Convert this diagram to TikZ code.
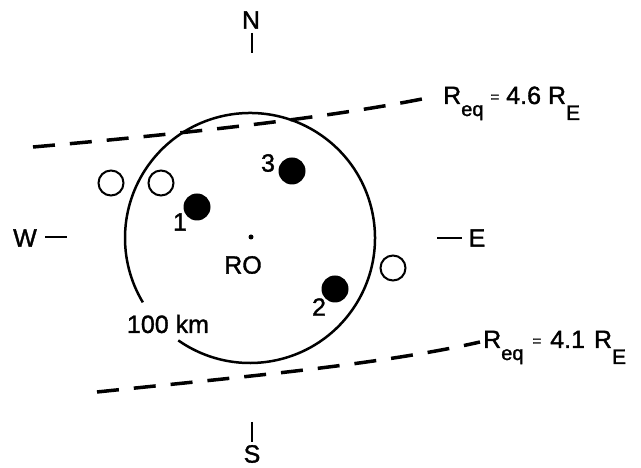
\documentclass[tikz,border=0pt]{standalone}
\usepackage{fontspec}
\setmainfont[FakeBold=1.4]{Liberation Sans}
\newcommand\reqlab[2]{R\raisebox{-12pt}{\fontsize{20}{20}\selectfont eq}\hspace{#2}\raisebox{2pt}{\fontsize{15}{15}\selectfont =}\hspace{#2}#1\hspace{#2}R\raisebox{-16pt}{\fontsize{21}{21}\selectfont E}}
\begin{document}
\begin{tikzpicture}[x=1pt,y=1pt,
  lab/.style={font=\fontsize{25}{25}\selectfont, inner sep=0pt},
  reqtext/.style={font=\fontsize{25}{25}\selectfont, inner sep=0pt, anchor=base west},
  filled/.style={circle, fill=black, minimum size=27pt, inner sep=0pt},
  hollow/.style={circle, draw=black, line width=2pt, minimum size=25pt, inner sep=0pt},
  tickline/.style={line width=2pt},
  rim/.style={line width=2.5pt},
  reqline/.style={line width=3.5pt, dash pattern=on 22pt off 15pt}]
\useasboundingbox (0,0) rectangle (641,468);
% main circle with gap at lower left
\coordinate (c) at (250,230);
\draw[rim] (c) ++(235:125) arc[start angle=235, end angle=571, radius=125];
\node[lab] (km) at (168,144) {100 km};
% centre
\node[circle, fill=black, minimum size=5pt, inner sep=0pt] (ro) at (251,231) {};
\node[lab] (rolab) at (243,203) {RO};
% filled dots
\node[filled] (d1) at (197,261) {};
\node[lab] (l1) at (180,246) {1};
\node[filled] (d3) at (292,297) {};
\node[lab] (l3) at (268,305) {3};
\node[filled] (d2) at (335,179) {};
\node[lab] (l2) at (319,161) {2};
% open circles
\node[hollow] (o1) at (111,285) {};
\node[hollow] (o2) at (161,285) {};
\node[hollow] (o3) at (393,200) {};
% compass
\node[lab] (N) at (251,448) {N};
\coordinate (nt1) at (252,435); \coordinate (nt2) at (252,415);
\draw[tickline] (nt1) -- (nt2);
\node[lab] (S) at (252,14) {S};
\coordinate (st1) at (252,46); \coordinate (st2) at (252,26);
\draw[tickline] (st1) -- (st2);
\node[lab] (W) at (25,230) {W};
\coordinate (wt1) at (45,231); \coordinate (wt2) at (67,231);
\draw[tickline] (wt1) -- (wt2);
\node[lab] (E) at (477,230) {E};
\coordinate (et1) at (437,230); \coordinate (et2) at (462,230);
\draw[tickline] (et1) -- (et2);
% field lines
\coordinate (u0) at (33,321); \coordinate (u1) at (432,371);
\draw[reqline] (u0) .. controls (180,334) and (330,350) .. (u1);
\node[reqtext] (requ) at (443,364) {\reqlab{4.6}{7pt}};
\coordinate (b0) at (97,76); \coordinate (b1) at (480,126);
\draw[reqline] (b0) .. controls (230,90) and (380,103) .. (b1);
\node[reqtext] (reqb) at (483,120) {\reqlab{4.1}{9pt}};
\end{tikzpicture}
\end{document}
